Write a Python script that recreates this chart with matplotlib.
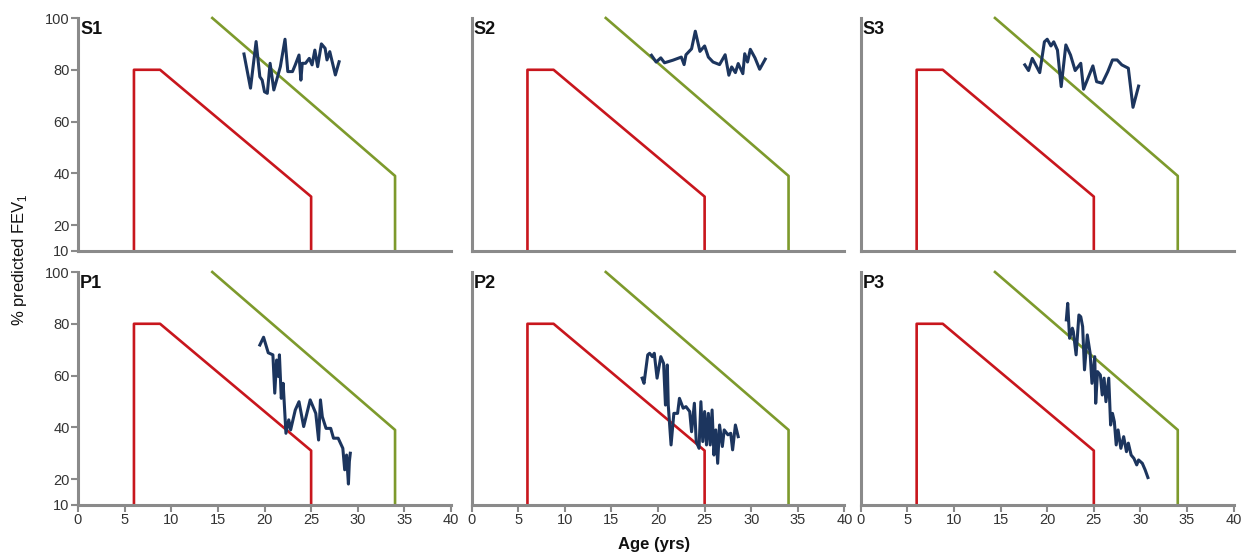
import matplotlib
matplotlib.use("Agg")
import matplotlib.pyplot as plt

plt.rcParams["font.family"] = ["Liberation Sans", "DejaVu Sans"]

# Reference bands (same in every panel)
red_x = [6, 6, 8.8, 25, 25]
red_y = [10, 80, 80, 31, 10]
green_x = [14.4, 34, 34]
green_y = [100, 39, 10]

# Subject series: age (yrs), % predicted FEV1
s1_age = [17.8, 18.5, 19.1, 19.5, 19.75, 20.0, 20.3, 20.6, 21.0, 21.4, 21.7, 22.2, 22.5, 23.0,
          23.3, 23.7, 23.9, 24.05, 24.4, 24.8, 25.1, 25.4, 25.7, 26.1, 26.5, 26.7, 27.0, 27.6, 28.0]
s1_fev = [86.1, 72.9, 90.9, 77.3, 76, 71.5, 70.9, 82.5, 72.2, 77.3, 81.2, 91.8, 79.3, 79.3,
          81.9, 85.7, 76, 82.5, 82.5, 84.4, 81.9, 87.6, 81.2, 90, 88.3, 83.8, 87, 78, 83.1]

s2_age = [19.3, 19.8, 20.3, 20.7, 21.6, 22.5, 22.8, 23.0, 23.6, 24.0, 24.5, 25.0, 25.4, 25.9,
          26.6, 27.2, 27.6, 27.9, 28.3, 28.6, 29.1, 29.3, 29.6, 29.9, 30.4, 30.9, 31.5]
s2_fev = [85.6, 83, 84.6, 82.7, 83.7, 84.9, 82, 85.8, 88.1, 94.9, 87.1, 89.2, 84.9, 83,
          82, 85.8, 77.9, 81.1, 78.9, 82.4, 78.5, 86.2, 83, 87.9, 84.6, 80.2, 84.1]

s3_age = [17.6, 18.0, 18.4, 19.2, 19.7, 20.0, 20.4, 20.7, 21.1, 21.5, 22.0, 22.5, 23.0, 23.6,
          23.9, 24.3, 24.9, 25.3, 25.9, 26.5, 27.0, 27.5, 28.0, 28.7, 29.2, 29.8]
s3_fev = [81.9, 79.7, 84.4, 78.9, 90.8, 91.8, 89.2, 90.8, 87.6, 73.5, 89.6, 85.7, 79.7, 82.5,
          72.5, 76.1, 81.5, 75.4, 74.8, 79.3, 83.8, 83.8, 81.9, 80.6, 65.5, 73.7]

p1_age = [19.5, 19.9, 20.4, 20.9, 21.1, 21.3, 21.5, 21.6, 21.8, 22.0, 22.3, 22.6, 22.8, 23.3,
          23.7, 24.2, 24.9, 25.5, 25.8, 26.0, 26.2, 26.6, 27.1, 27.4, 27.9, 28.4, 28.6, 28.8,
          29.0, 29.1, 29.2]
p1_fev = [71.8, 74.8, 68.8, 68, 53.2, 66, 59.6, 68, 51.2, 57, 37.7, 42.9, 39, 46.7,
          49.9, 40.3, 50.6, 45.4, 35.1, 50.6, 44.1, 39.6, 39.6, 35.8, 35.8, 31.9, 23.6, 29.3,
          18.1, 26.8, 30]

p2_age = [18.3, 18.5, 18.9, 19.1, 19.4, 19.6, 19.9, 20.3, 20.6, 20.8, 21.0, 21.1, 21.4, 21.7,
          22.1, 22.3, 22.7, 23.0, 23.4, 23.6, 23.9, 24.1, 24.4, 24.6, 24.8, 25.0, 25.2, 25.4,
          25.6, 25.8, 26.0, 26.2, 26.4, 26.6, 26.9, 27.1, 27.5, 27.8, 28.0, 28.3, 28.6]
p2_fev = [59, 57, 68, 68.6, 67.3, 68.6, 59, 67.3, 64.7, 48.6, 64.1, 48.6, 33.2, 45.4,
          45.4, 51.2, 47.4, 48, 46.1, 38.3, 49.3, 34.5, 31.9, 49.9, 34.5, 46.1, 33.2, 45.4,
          33.2, 46.7, 29.3, 39, 26.1, 40.9, 32.6, 39, 37.1, 37.7, 31.3, 40.9, 36.4]

p3_age = [22.05, 22.2, 22.4, 22.7, 22.8, 23.1, 23.4, 23.6, 23.8, 24.0, 24.3, 24.6, 24.8, 25.1,
          25.2, 25.4, 25.7, 25.9, 26.1, 26.3, 26.6, 26.8, 27.0, 27.2, 27.4, 27.6, 27.9, 28.2,
          28.5, 28.7, 29.0, 29.3, 29.6, 29.8, 30.2, 30.5, 30.8]
p3_fev = [81.5, 87.9, 74.4, 78.3, 77, 68, 83.4, 82.7, 78.9, 62.2, 75.7, 68.7, 57, 67.3,
          49.3, 61.5, 60.2, 52.5, 59, 49.9, 59, 40.9, 45.4, 42.2, 33.2, 39, 31.9, 36.4,
          30.6, 33.9, 29.3, 28, 25.5, 27.4, 26.1, 23.6, 20.6]

panels = [
    ("S1", s1_age, s1_fev),
    ("S2", s2_age, s2_fev),
    ("S3", s3_age, s3_fev),
    ("P1", p1_age, p1_fev),
    ("P2", p2_age, p2_fev),
    ("P3", p3_age, p3_fev),
]

x_ticks = [0, 5, 10, 15, 20, 25, 30, 35, 40]
y_ticks = [10, 20, 40, 60, 80, 100]

W, H = 1245, 559
fig = plt.figure(figsize=(W / 100, H / 100), dpi=100)

lefts = [78, 471.5, 860.7]
tops = [18, 272]
ax_w, ax_h = 373, 233

axis_grey = "#8a8a8a"
red = "#c8161d"
green = "#7d9a2c"
navy = "#1c355e"

for i, (name, age, fev) in enumerate(panels):
    row, col = divmod(i, 3)
    left = lefts[col] / W
    bottom = 1 - (tops[row] + ax_h) / H
    ax = fig.add_axes([left, bottom, ax_w / W, ax_h / H])

    ax.plot(red_x, red_y, color=red, lw=1.9, clip_on=False)
    ax.plot(green_x, green_y, color=green, lw=1.9, clip_on=False)
    ax.plot(age, fev, color=navy, lw=2.2, solid_joinstyle="round")

    ax.set_xlim(0, 40)
    ax.set_ylim(10, 100)
    for side in ["top", "right"]:
        ax.spines[side].set_visible(False)
    for side in ["left", "bottom"]:
        ax.spines[side].set_color(axis_grey)
        ax.spines[side].set_linewidth(2.2)

    ax.tick_params(colors=axis_grey, width=1.5, length=5, labelcolor="#333333",
                   labelsize=10.5, pad=1)

    if col == 0:
        ax.set_yticks(y_ticks)
    else:
        ax.set_yticks([])
    if row == 1:
        ax.set_xticks(x_ticks)
    else:
        ax.set_xticks([])

    ax.text(0.006, 0.985, name, transform=ax.transAxes, ha="left", va="top",
            fontsize=13, fontweight="bold", color="#111111")

fig.text(20 / W, 1 - 260 / H, "% predicted FEV$_\\mathregular{1}$", rotation=90,
         ha="center", va="center", fontsize=12, color="#111111")
fig.text(654 / W, 1 - 545 / H, "Age (yrs)", ha="center", va="center",
         fontsize=12, fontweight="bold", color="#111111")

fig.savefig("out.png", dpi=100)
